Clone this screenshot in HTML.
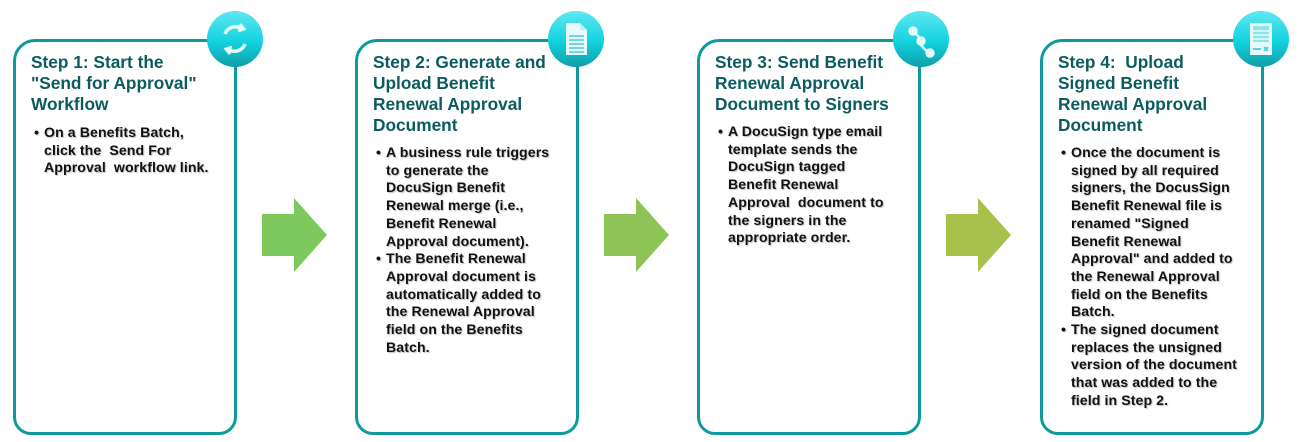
<!DOCTYPE html>
<html><head><meta charset="utf-8"><style>
body{margin:0;width:1303px;height:442px;background:#fff;position:relative;overflow:hidden;font-family:"Liberation Sans",sans-serif}
.box{position:absolute;top:39px;width:218px;height:390px;border:3px solid #0e9a9c;border-radius:22px 18px 18px 18px}
.t{position:absolute;left:15px;top:10px;color:#0a5c5e;font-weight:bold;font-size:17.3px;line-height:21px;white-space:nowrap}
.b{position:absolute;left:18px;color:#111;font-weight:bold;font-size:14.1px;line-height:17.7px;white-space:nowrap;letter-spacing:0.1px;text-shadow:1px 1px 1px rgba(0,0,0,.25)}
.b div{position:relative;padding-left:10px}
.b div:before{content:"•";position:absolute;left:0}
.c{position:absolute;top:11px;width:56px;height:56px;border-radius:50%;background:linear-gradient(#5ee8f2,#12d2de 55%,#0e9ea8)}
.arr{position:absolute;top:198px}
</style></head><body>
<div class="box" style="left:13px"><div class="t">Step 1: Start the<br>"Send for Approval"<br>Workflow</div>
<div class="b" style="top:82px"><div>On a Benefits Batch,<br>click the &nbsp;Send For<br>Approval &nbsp;workflow link.</div></div></div>
<div class="box" style="left:355px"><div class="t">Step 2: Generate and<br>Upload Benefit<br>Renewal Approval<br>Document</div>
<div class="b" style="top:102px"><div>A business rule triggers<br>to generate the<br>DocuSign Benefit<br>Renewal merge (i.e.,<br>Benefit Renewal<br>Approval document).</div><div>The Benefit Renewal<br>Approval document is<br>automatically added to<br>the Renewal Approval<br>field on the Benefits<br>Batch.</div></div></div>
<div class="box" style="left:697px"><div class="t">Step 3: Send Benefit<br>Renewal Approval<br>Document to Signers</div>
<div class="b" style="top:81px"><div>A DocuSign type email<br>template sends the<br>DocuSign tagged<br>Benefit Renewal<br>Approval &nbsp;document to<br>the signers in the<br>appropriate order.</div></div></div>
<div class="box" style="left:1040px"><div class="t">Step 4: &nbsp;Upload<br>Signed Benefit<br>Renewal Approval<br>Document</div>
<div class="b" style="top:102px"><div>Once the document is<br>signed by all required<br>signers, the DocusSign<br>Benefit Renewal file is<br>renamed "Signed<br>Benefit Renewal<br>Approval" and added to<br>the Renewal Approval<br>field on the Benefits<br>Batch.</div><div>The signed document<br>replaces the unsigned<br>version of the document<br>that was added to the<br>field in Step 2.</div></div></div>

<div class="c" style="left:207px"><svg width="56" height="56" viewBox="0 0 56 56" fill="none" stroke="#e8fbfc" stroke-width="3.5"><path d="M18 23a11 11 0 0 1 17-5"/><path d="M38 33a11 11 0 0 1-17 5"/><path d="M33 13l4 5-6 2" stroke-width="3"/><path d="M23 43l-4-5 6-2" stroke-width="3"/></svg></div>
<div class="c" style="left:548px"><svg width="56" height="56" viewBox="0 0 56 56"><path d="M18 12h14l7 7v25H18z" fill="#e8fbfc"/><path d="M32 12v7h7" fill="#bdf2f5"/><g stroke="#6fd9e0" stroke-width="2"><path d="M21 25h15M21 29h15M21 33h15M21 37h15M21 41h15"/></g></svg></div>
<div class="c" style="left:893px"><svg width="56" height="56" viewBox="0 0 56 56" fill="#e8fbfc" stroke="#e8fbfc" stroke-width="2.5"><path d="M20 20l8 8v6l9 10" fill="none"/><circle cx="20" cy="20" r="3.5"/><circle cx="28" cy="30" r="3.5"/><circle cx="37" cy="42" r="3.5"/></svg></div>
<div class="c" style="left:1233px"><svg width="56" height="56" viewBox="0 0 56 56"><rect x="17" y="12" width="22" height="32" fill="#e8fbfc"/><rect x="20" y="15" width="16" height="16" fill="#8fe3ea"/><g stroke="#e8fbfc" stroke-width="1.5"><path d="M20 20h16M20 24h16M20 28h16"/></g><path d="M20 38h8M31 36l4 4M35 36l-4 4" stroke="#5ccfd8" stroke-width="2"/></svg></div>

<svg class="arr" style="left:262px" width="66" height="76"><polygon points="0,16 32,16 32,0 65,37 32,74 32,58 0,58" fill="#7ec95d"/></svg>
<svg class="arr" style="left:604px" width="66" height="76"><polygon points="0,16 32,16 32,0 65,37 32,74 32,58 0,58" fill="#8ec455"/></svg>
<svg class="arr" style="left:946px" width="66" height="76"><polygon points="0,16 32,16 32,0 65,37 32,74 32,58 0,58" fill="#a6c24b"/></svg>
</body></html>
